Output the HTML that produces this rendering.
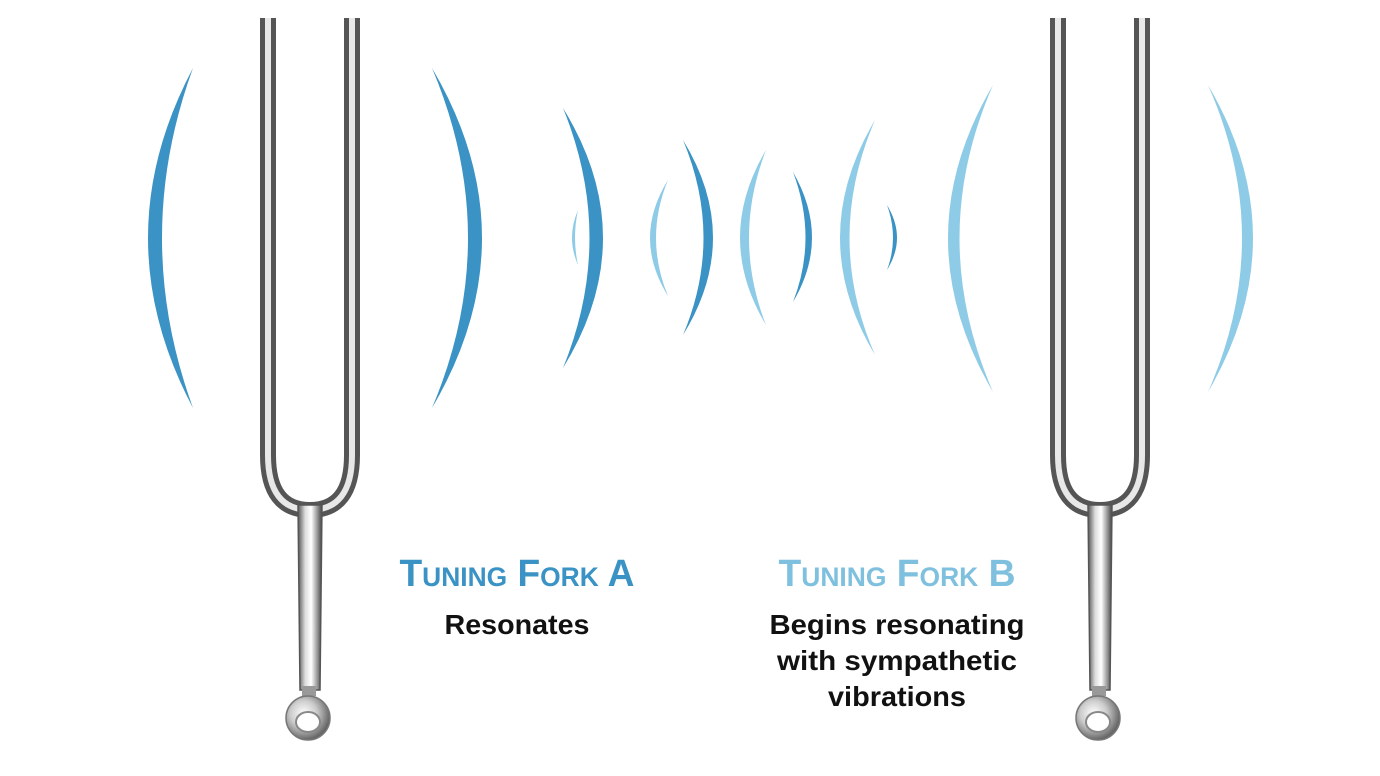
<!DOCTYPE html>
<html><head><meta charset="utf-8"><style>
html,body{margin:0;padding:0;background:#fff;}
svg{display:block;}
text{font-family:"Liberation Sans",Arial,sans-serif;font-weight:bold;text-anchor:middle;}
</style></head><body>
<svg width="1380" height="776" viewBox="0 0 1380 776" xmlns="http://www.w3.org/2000/svg">
<defs>
<linearGradient id="metal" x1="0" x2="1" y1="0" y2="0">
<stop offset="0" stop-color="#555"/><stop offset="0.3" stop-color="#ddd"/><stop offset="0.55" stop-color="#fff"/><stop offset="0.8" stop-color="#999"/><stop offset="1" stop-color="#444"/>
</linearGradient>
<radialGradient id="ball" cx="0.4" cy="0.4" r="0.6">
<stop offset="0" stop-color="#fff"/><stop offset="0.5" stop-color="#ccc"/><stop offset="1" stop-color="#666"/>
</radialGradient>
<g id="fork">
<path d="M-42 18 L-42 455 Q-42 510 0 510 Q42 510 42 455 L42 18" fill="none" stroke="#555" stroke-width="16"/>
<path d="M-42 18 L-42 455 Q-42 510 0 510 Q42 510 42 455 L42 18" fill="none" stroke="#e8e8e8" stroke-width="6"/>
<path d="M-12 505 L12 505 L10 690 L-10 690 Z" fill="url(#metal)" stroke="#555" stroke-width="1.5"/>
<rect x="-8" y="686" width="14" height="10" fill="#999"/>
<circle cx="-2" cy="718" r="22" fill="url(#ball)" stroke="#777" stroke-width="1.5"/>
<ellipse cx="-2" cy="722" rx="12" ry="10" fill="#fff" stroke="#888" stroke-width="2"/>
</g>
</defs>

<g fill="#3a93c4">
<path d="M193 68 Q103 238 193 408 Q131 238 193 68Z"/>
<path d="M432 68 Q532 238 432 408 Q504 238 432 68Z"/>
<path d="M563 108 Q643 238 563 368 Q616 238 563 108Z"/>
<path d="M683 140 Q743 238 683 335 Q724 238 683 140Z"/>
<path d="M793 172 Q831 238 793 302 Q818 238 793 172Z"/>
<path d="M887 205 Q907 238 887 270 Q899 238 887 205Z"/>
</g>
<g fill="#8ecbe6">
<path d="M578 210 Q566 238 578 265 Q572 238 578 210Z"/>
<path d="M668 180 Q632 238 668 296 Q644 238 668 180Z"/>
<path d="M766 150 Q714 238 766 325 Q732 238 766 150Z"/>
<path d="M875 120 Q805 238 875 355 Q824 238 875 120Z"/>
<path d="M993 85 Q903 238 993 392 Q926 238 993 85Z"/>
<path d="M1208 85 Q1298 238 1208 392 Q1276 238 1208 85Z"/>
</g>

<use href="#fork" x="310" y="0"/>
<use href="#fork" x="1100" y="0"/>

<text x="517" y="586" font-size="38" fill="#3a93c4" style="font-variant:small-caps" textLength="235" lengthAdjust="spacingAndGlyphs">Tuning Fork A</text>
<text x="897" y="586" font-size="38" fill="#7fc0df" style="font-variant:small-caps" textLength="237" lengthAdjust="spacingAndGlyphs">Tuning Fork B</text>
<text x="517" y="634" font-size="28" fill="#111" textLength="145" lengthAdjust="spacingAndGlyphs">Resonates</text>
<text x="897" y="634" font-size="28" fill="#111" textLength="255" lengthAdjust="spacingAndGlyphs">Begins resonating</text>
<text x="897" y="670" font-size="28" fill="#111" textLength="240" lengthAdjust="spacingAndGlyphs">with sympathetic</text>
<text x="897" y="706" font-size="28" fill="#111" textLength="138" lengthAdjust="spacingAndGlyphs">vibrations</text>
</svg>
</body></html>
